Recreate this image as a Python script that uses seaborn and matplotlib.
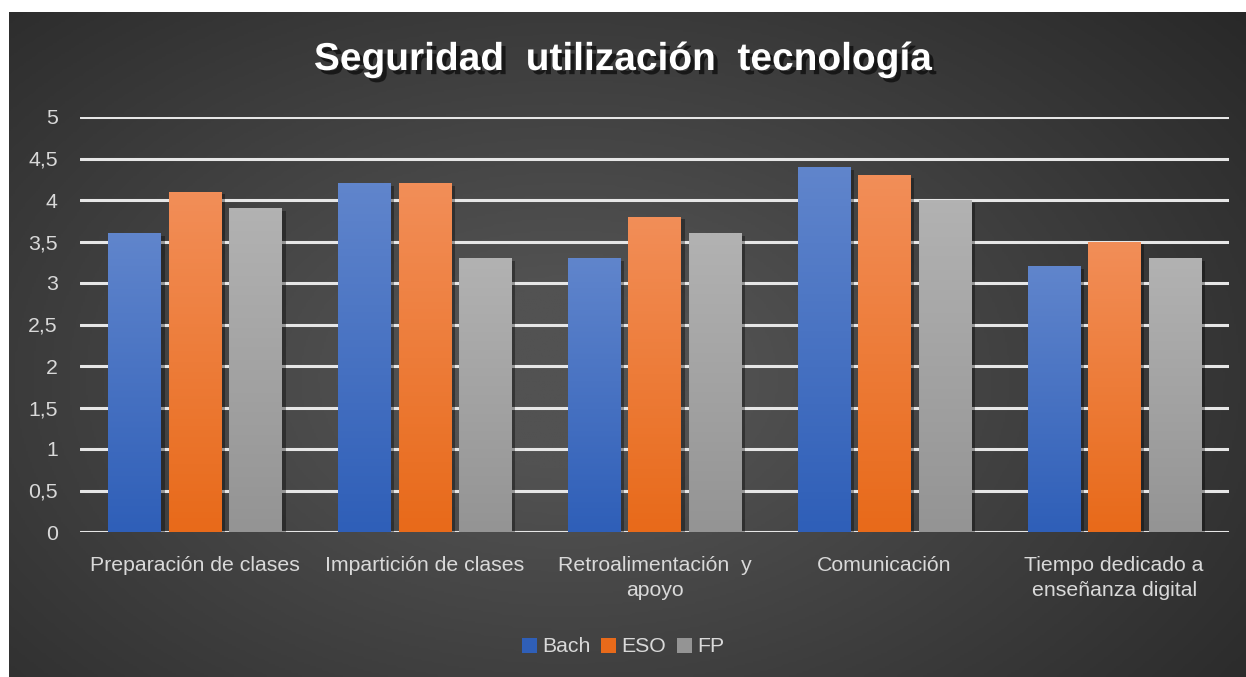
import numpy as np
import pandas as pd
import seaborn as sns
import matplotlib.pyplot as plt
import matplotlib.patheffects as pe
from matplotlib.colors import LinearSegmentedColormap

# data
categories = ["Preparación de clases", "Impartición de clases", "Retroalimentación  y\napoyo",
              "Comunicación", "Tiempo dedicado a\nenseñanza digital"]
bach = [3.6, 4.2, 3.3, 4.4, 3.2]
eso = [4.1, 4.2, 3.8, 4.3, 3.5]
fp = [3.9, 3.3, 3.6, 4.0, 3.3]
series_names = ["Bach", "ESO", "FP"]
yticks = [0, 0.5, 1, 1.5, 2, 2.5, 3, 3.5, 4, 4.5, 5]
yticklabels = ["0", "0,5", "1", "1,5", "2", "2,5", "3", "3,5", "4", "4,5", "5"]

# top / bottom colours for the bar gradients
grad = {"Bach": ("#6085cc", "#2f5fb8"),
        "ESO": ("#f28e58", "#e86a1a"),
        "FP": ("#b2b2b2", "#949494")}


def main():
    df = pd.DataFrame({"categoria": categories * 3,
                       "serie": np.repeat(series_names, len(categories)),
                       "valor": bach + eso + fp})

    sns.set_theme(style="dark")
    plt.rcParams['font.family'] = ['Liberation Sans', 'DejaVu Sans']

    fig = plt.figure(figsize=(12.46, 6.77), dpi=100)
    fig.patch.set_facecolor("white")

    # dark radial background, white strip on left and top
    bg = fig.add_axes([9 / 1246, 0, 1 - 9 / 1246, 1 - 12 / 677])
    yy, xx = np.mgrid[0:1:300j, 0:1:600j]
    r = np.sqrt(((xx - 0.45) / 0.75) ** 2 + ((yy - 0.55) / 0.9) ** 2)
    shade = np.clip(1 - r, 0, 1)
    bgcm = LinearSegmentedColormap.from_list("bg", ["#262626", "#525252"])
    bg.imshow(shade, cmap=bgcm, aspect="auto", extent=[0, 1, 0, 1], vmin=0, vmax=0.85)
    bg.axis("off")

    ax = fig.add_axes([80 / 1246, 1 - 532 / 677, (1229 - 80) / 1246, (532 - 117) / 677])
    ax.set_facecolor("none")
    sns.barplot(data=df, x="categoria", y="valor", hue="serie", hue_order=series_names,
                palette=[grad[s][1] for s in series_names], width=0.79, gap=0.14,
                ax=ax, legend=True, errorbar=None, zorder=3, linewidth=0, saturation=1)

    # gradient fills for each bar
    for cont, name in zip(ax.containers, series_names):
        cm = LinearSegmentedColormap.from_list(name, [grad[name][1], grad[name][0]])
        for bar in cont:
            x0, y0 = bar.get_x(), bar.get_y()
            w, h = bar.get_width(), bar.get_height()
            img = ax.imshow(np.linspace(0, 1, 100).reshape(-1, 1), cmap=cm, origin="lower",
                            extent=[x0, x0 + w, y0, y0 + h], aspect="auto", zorder=3.5)
            img.set_clip_path(bar)
            bar.set_path_effects([pe.SimplePatchShadow(offset=(3, -2), shadow_rgbFace="black", alpha=0.35),
                                  pe.Normal()])

    ax.set_xlim(-0.5, len(categories) - 0.5)
    ax.set_ylim(0, 5)
    ax.set_yticks(yticks)
    ax.set_yticklabels(yticklabels)
    ax.yaxis.grid(True, color="#e6e6e6", linewidth=2.2, zorder=1)
    ax.xaxis.grid(False)
    ax.set_axisbelow(True)
    for s in ax.spines.values():
        s.set_visible(False)
    ax.tick_params(axis="both", colors="#d9d9d9", labelsize=15.3, length=0)
    ax.tick_params(axis="y", pad=16)
    ax.tick_params(axis="x", pad=17)
    for lab in ax.get_xticklabels():
        lab.set_linespacing(1.45)
    ax.set_xlabel("")
    ax.set_ylabel("")

    handles, labels = ax.get_legend_handles_labels()
    for h in handles:
        h.set_edgecolor("none")
    ax.legend(handles, labels, loc="center", bbox_to_anchor=(0.5, 1 - 647 / 677), bbox_transform=fig.transFigure,
              ncol=3, frameon=False, fontsize=15.3, labelcolor="#d9d9d9", handlelength=0.7, handleheight=0.7,
              handletextpad=0.25, columnspacing=0.5)

    fig.text(0.5, 1 - 60 / 677, "Seguridad  utilización  tecnología",
             ha="center", va="center", fontsize=28, fontweight="bold", color="white",
             path_effects=[pe.withSimplePatchShadow(offset=(3, -3), shadow_rgbFace="black", alpha=0.6)])

    fig.savefig("out.png", dpi=100)


if __name__ == "__main__":
    main()
